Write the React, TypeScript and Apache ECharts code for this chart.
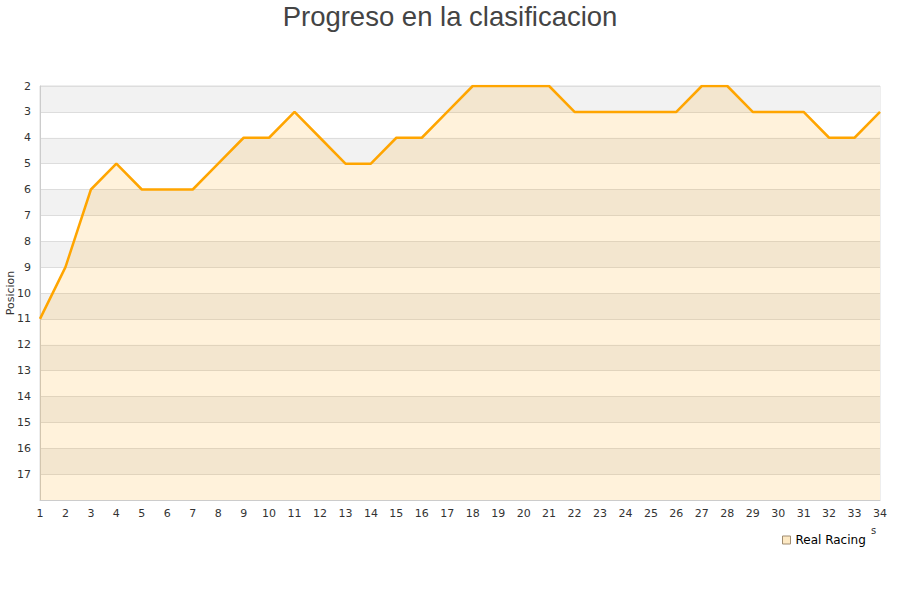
import React, { useEffect, useRef } from "react";
import * as echarts from "echarts";

const jornadas = ["1","2","3","4","5","6","7","8","9","10","11","12","13","14","15","16","17","18","19","20","21","22","23","24","25","26","27","28","29","30","31","32","33","34"];
const posiciones = [11, 9, 6, 5, 6, 6, 6, 5, 4, 4, 3, 4, 5, 5, 4, 4, 3, 2, 2, 2, 2, 3, 3, 3, 3, 3, 2, 2, 3, 3, 3, 4, 4, 3];
const seriesName = "Real Racing";
const titleText = "Progreso en la clasificacion";
const yAxisName = "Posicion";

export default function App() {
  const ref = useRef<HTMLDivElement>(null);
  useEffect(() => {
    if (!ref.current) return;
    const chart = echarts.init(ref.current, null, { renderer: "svg" });
    chart.setOption({
      animation: false,
      title: {
        text: titleText,
        left: "center",
        top: -3,
        textStyle: { fontFamily: "Liberation Sans", fontSize: 27.5, fontWeight: "normal", color: "#444" },
      },
      grid: { left: 40, right: 20, top: 86, bottom: 100, outerBoundsMode: "none", containLabel: false, show: true, borderColor: "#ddd", borderWidth: 1, backgroundColor: "transparent" },
      legend: {
        data: [{ name: seriesName, icon: "rect", itemStyle: { color: "#fde9c4", borderColor: "#a08c70", borderWidth: 1 } }],
        left: 777,
        top: 529,
        itemWidth: 8,
        itemHeight: 8,
        itemGap: 6,
        textStyle: { fontFamily: "DejaVu Sans", fontSize: 12, color: "#000" },
      },
      xAxis: {
        type: "category",
        data: jornadas,
        boundaryGap: false,
        axisLine: { lineStyle: { color: "#ccc" } },
        axisTick: { show: false },
        axisLabel: { color: "#333", fontFamily: "DejaVu Sans", fontSize: 11, margin: 8, interval: 0 },
        splitLine: { show: false },
      },
      yAxis: {
        type: "value",
        inverse: true,
        min: 2,
        max: 18,
        interval: 1,
        name: yAxisName,
        nameLocation: "middle",
        nameGap: 24,
        nameMoveOverlap: false,
        nameTextStyle: { fontFamily: "DejaVu Sans", fontSize: 11, color: "#333" },
        axisLine: { show: true, lineStyle: { color: "#ccc" } },
        axisTick: { show: false },
        axisLabel: {
          color: "#333",
          fontFamily: "DejaVu Sans",
          fontSize: 11,
          margin: 9,
          formatter: (v: number) => (v === 18 ? "" : String(v)),
        },
        splitLine: { show: true, lineStyle: { color: "#ddd" } },
        splitArea: { show: true, areaStyle: { color: ["#f2f2f2", "#ffffff"] } },
      },
      graphic: [
        { type: "text", left: 871, top: 525, style: { text: "s", fontFamily: "DejaVu Sans", fontSize: 10, fill: "#333" } },
      ],
      series: [
        {
          name: seriesName,
          type: "line",
          data: posiciones,
          showSymbol: false,
          symbol: "none",
          lineStyle: { color: "#ffa500", width: 2.5 },
          itemStyle: { color: "#ffa500" },
          areaStyle: { color: "rgba(255,165,0,0.2)", origin: "end" },
        },
      ],
    });
    return () => chart.dispose();
  }, []);
  return <div ref={ref} style={{ position: "absolute", left: 0, top: 0, width: 900, height: 600 }} />;
}
